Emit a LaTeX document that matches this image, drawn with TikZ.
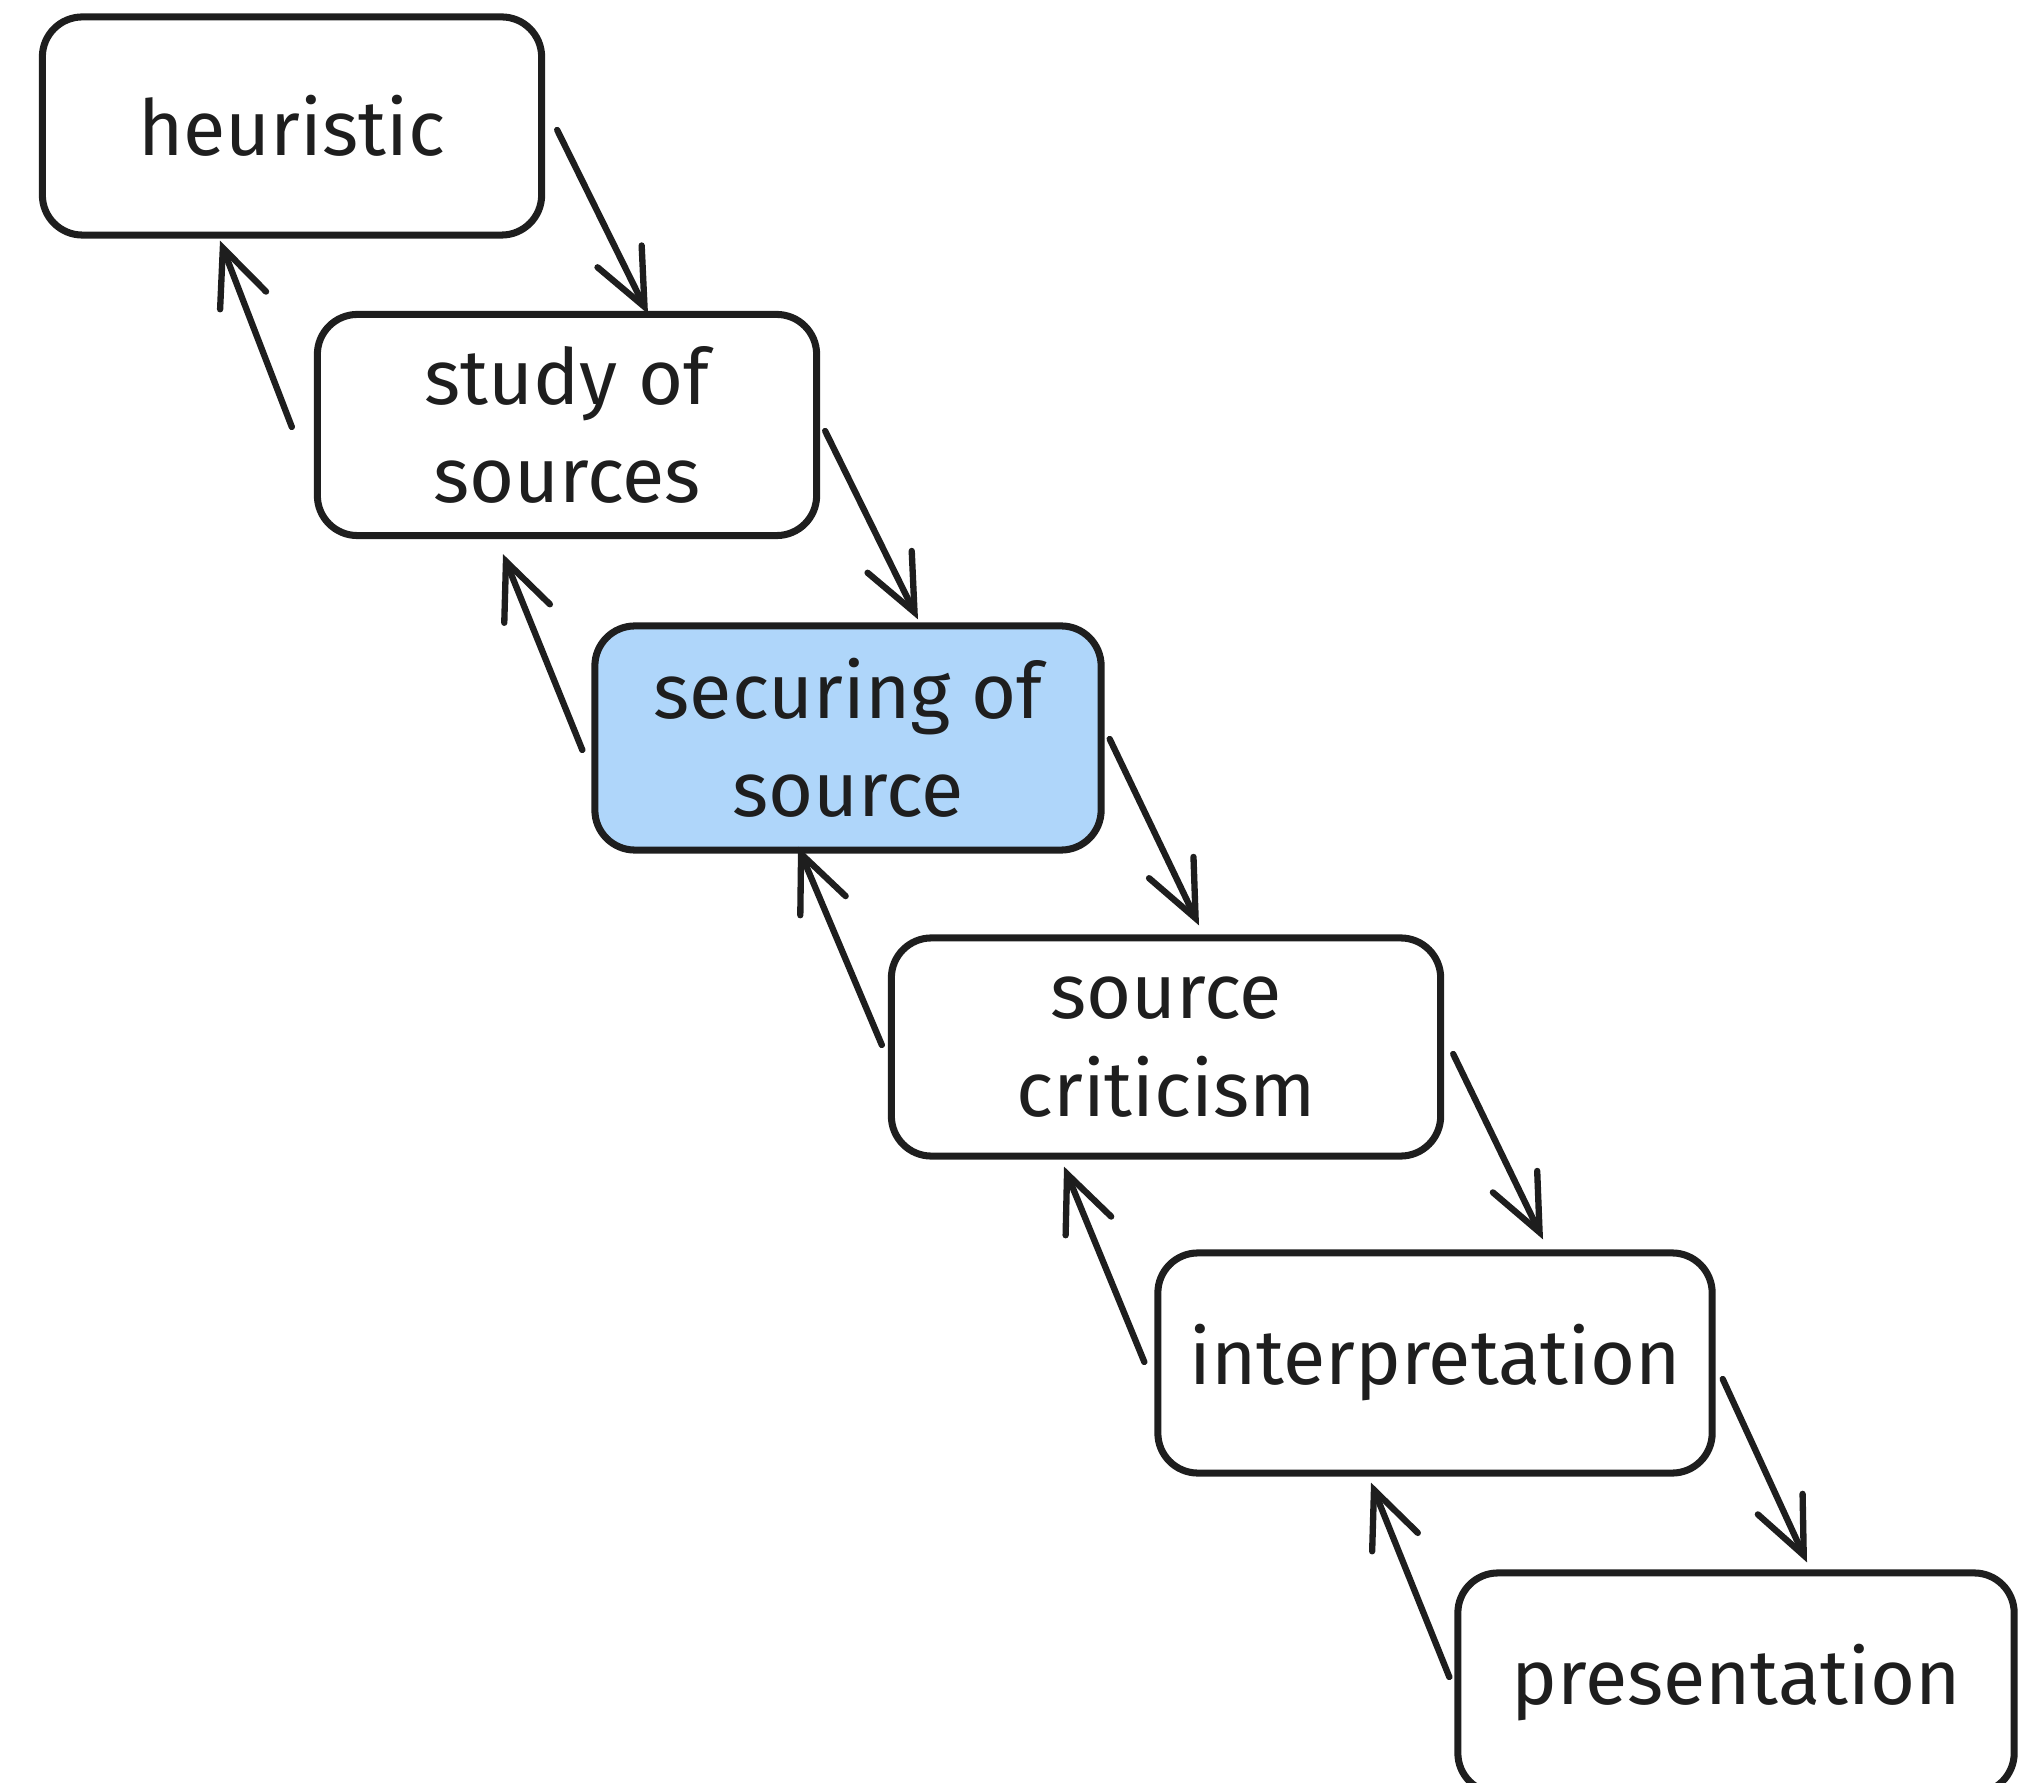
\documentclass[tikz,border=0pt]{standalone}
\usepackage{fontspec}
\setmainfont{Fira Sans}
\usetikzlibrary{arrows.meta}
\definecolor{ink}{HTML}{1E1E1E}
\definecolor{secblue}{HTML}{AFD6FA}

\begin{document}
\begin{tikzpicture}[x=0.01cm,y=-0.01cm]
	\tikzstyle{stage}=[draw=ink,text=ink,line width=2pt,rounded corners=0.4cm,align=center,inner sep=0pt,font=\fontsize{22}{28}\selectfont]
	\tikzstyle{flow}=[draw=ink,line width=1.8pt,line cap=round,-{Straight Barb[length=16pt,width=14pt,line cap=round]}]
	\useasboundingbox (0,0) rectangle (2034,1783);
	\clip (0,0) rectangle (2034,1783);
	% the six stages
	\node[stage,minimum width=4.99cm,minimum height=2.18cm] (heur) at (292,126) {heuristic};
	\node[stage,minimum width=4.99cm,minimum height=2.21cm] (study) at (567,425) {study of\\sources};
	\node[stage,fill=secblue,minimum width=5.06cm,minimum height=2.24cm] (secure) at (848,738) {securing of\\source};
	\node[stage,minimum width=5.49cm,minimum height=2.18cm] (crit) at (1166,1047) {source\\criticism};
	\node[stage,minimum width=5.54cm,minimum height=2.20cm] (interp) at (1435,1363) {interpretation};
	\node[stage,minimum width=5.56cm,minimum height=2.20cm] (pres) at (1736,1683) {presentation};
	% forward
	\draw[flow] ([shift={(12,4)}]heur.east) -- ([shift={(81,3)}]study.north);
	\draw[flow] ([shift={(5,6)}]study.east) -- ([shift={(70,-3)}]secure.north);
	\draw[flow] ([shift={(5,1)}]secure.east) -- ([shift={(33,-9)}]crit.north);
	\draw[flow] ([shift={(9,7)}]crit.east) -- ([shift={(108,-10)}]interp.north);
	\draw[flow] ([shift={(7,16)}]interp.east) -- ([shift={(71,-7)}]pres.north);
	% back
	\draw[flow] ([shift={(-22,2)}]study.west) -- ([shift={(-72,2)}]heur.south);
	\draw[flow] ([shift={(-9,12)}]secure.west) -- ([shift={(-64,15)}]study.south);
	\draw[flow] ([shift={(-6,-2)}]crit.west) -- ([shift={(-50,-7)}]secure.south);
	\draw[flow] ([shift={(-10,-1)}]interp.west) -- ([shift={(-102,7)}]crit.south);
	\draw[flow] ([shift={(-5,-6)}]pres.west) -- ([shift={(-64,6)}]interp.south);
\end{tikzpicture}
\end{document}
